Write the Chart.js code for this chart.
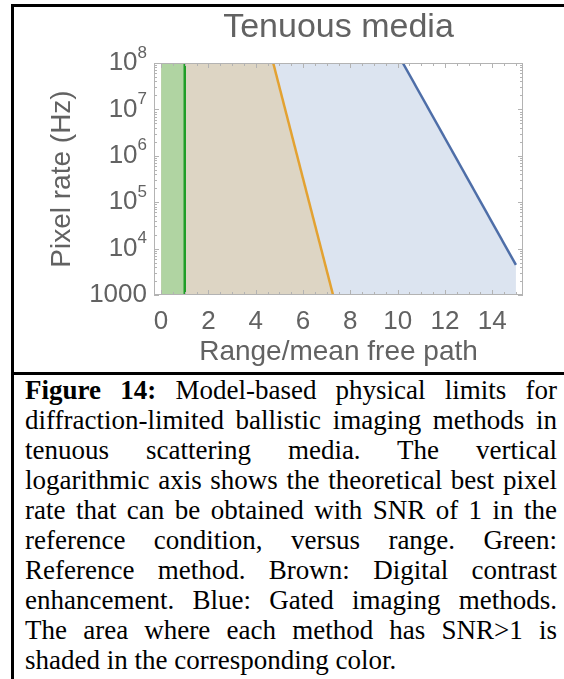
<!DOCTYPE html>
<html>
<head>
<meta charset="utf-8">
<script src="https://cdn.jsdelivr.net/npm/chart.js@4/dist/chart.umd.min.js"></script>
<style>
  html, body { margin: 0; padding: 0; background: #fff; }
  body { width: 564px; height: 679px; overflow: hidden; position: relative; }
  #chart { position: absolute; left: 0; top: 0; }
  .bl { position: absolute; background: #000; z-index: 2; }
  #caption { position: absolute; left: 25px; top: 375px; width: 532px;
    font-family: "Liberation Serif", "Times New Roman", serif; font-size: 27px;
    line-height: 30px; color: #000; }
  #caption .j { text-align: justify; text-align-last: justify; }
  #caption .l { text-align: left; }
</style>
</head>
<body>
<canvas id="chart" width="564" height="372"></canvas>
<div class="bl" style="left:11px;top:4px;width:600px;height:3px;"></div>
<div class="bl" style="left:11px;top:4px;width:3px;height:700px;"></div>
<div class="bl" style="left:11px;top:372px;width:600px;height:3px;"></div>
<div id="caption">
  <div class="j"><b>Figure 14:</b> Model-based physical limits for</div>
  <div class="j">diffraction-limited ballistic imaging methods in</div>
  <div class="j">tenuous scattering media. The vertical</div>
  <div class="j">logarithmic axis shows the theoretical best pixel</div>
  <div class="j">rate that can be obtained with SNR of 1 in the</div>
  <div class="j">reference condition, versus range. Green:</div>
  <div class="j">Reference method. Brown: Digital contrast</div>
  <div class="j">enhancement. Blue: Gated imaging methods.</div>
  <div class="j">The area where each method has SNR&gt;1 is</div>
  <div class="l">shaded in the corresponding color.</div>
</div>
<script>
// ---- data ----
const xLimits = [-0.3, 15.3];
const yLimits = [1e3, 1e8];
const xTickValues = [0, 2, 4, 6, 8, 10, 12, 14];
const yTickExponents = [3, 4, 5, 6, 7, 8];
const shadeStartX = 0;
// Green: reference method (vertical limit)
const referenceX = [1, 1];
const referenceY = [1e3, 1e8];
// Brown/orange: digital contrast enhancement
const contrastX = [4.74, 7.27];
const contrastY = [1e8, 1e3];
// Blue: gated imaging methods
const gatedX = [10.22, 15];
const gatedY = [1e8, 4470];

const zip = (xs, ys) => xs.map((x, i) => ({ x: x, y: ys[i] }));
const referenceLine = zip(referenceX, referenceY);
const contrastLine = zip(contrastX, contrastY);
const gatedLine = zip(gatedX, gatedY);
const topLeft = { x: shadeStartX, y: yLimits[1] };
const greenArea = [topLeft, { x: referenceX[1], y: yLimits[1] }];
const contrastArea = [topLeft].concat(contrastLine);
const gatedArea = [topLeft].concat(gatedLine);

const TEXT = '#626262';
const FRAME = '#b3b3b3';

const framePlugin = {
  id: 'frameTicks',
  afterDatasetsDraw(chart) {
    const { ctx, chartArea: a, scales } = chart;
    const xs = scales.x, ys = scales.y;
    ctx.save();
    ctx.strokeStyle = FRAME;
    ctx.lineWidth = 1;
    ctx.strokeRect(Math.round(a.left) + 0.5, Math.round(a.top) + 0.5,
      Math.round(a.right - a.left) - 1, Math.round(a.bottom - a.top) - 1);
    ctx.beginPath();
    for (let v = 0; v <= 15.01; v += 0.5) {
      const px = Math.round(xs.getPixelForValue(v)) + 0.5;
      const len = (Math.abs(v % 2) < 1e-6) ? 5 : 3;
      ctx.moveTo(px, a.bottom); ctx.lineTo(px, a.bottom - len);
      ctx.moveTo(px, a.top); ctx.lineTo(px, a.top + len);
    }
    for (let e = yTickExponents[0]; e <= yTickExponents[yTickExponents.length - 1]; e++) {
      for (let k = 1; k <= 9; k++) {
        const v = k * Math.pow(10, e);
        if (v > yLimits[1] * 1.0001) break;
        const py = Math.round(ys.getPixelForValue(v)) + 0.5;
        const len = k === 1 ? 5 : 3;
        ctx.moveTo(a.left, py); ctx.lineTo(a.left + len, py);
        ctx.moveTo(a.right, py); ctx.lineTo(a.right - len, py);
      }
    }
    ctx.stroke();
    ctx.restore();
  },
  afterDraw(chart) {
    const { ctx, chartArea: a, scales } = chart;
    const ys = scales.y;
    const rightX = a.left - 7;
    ctx.save();
    ctx.fillStyle = TEXT;
    ctx.textAlign = 'right';
    ctx.textBaseline = 'middle';
    const base = '26px "Liberation Sans", Arial, sans-serif';
    const sup = '17px "Liberation Sans", Arial, sans-serif';
    yTickExponents.forEach(e => {
      const py = ys.getPixelForValue(Math.pow(10, e));
      if (e === 3) {
        ctx.font = base;
        ctx.fillText(String(Math.pow(10, e)), rightX, py);
      } else {
        ctx.font = sup;
        const s = String(e);
        const w = ctx.measureText(s).width;
        ctx.fillText(s, rightX, py - 10);
        ctx.font = base;
        ctx.fillText('10', rightX - w, py);
      }
    });
    ctx.restore();
  }
};

new Chart(document.getElementById('chart'), {
  type: 'scatter',
  data: {
    datasets: [
      { label: 'Reference method', data: referenceLine, showLine: true, borderColor: '#1f9e28',
        borderWidth: 2.5, pointRadius: 0, fill: false, order: 1 },
      { label: 'Digital contrast enhancement', data: contrastLine, showLine: true, borderColor: '#e3a232',
        borderWidth: 2.5, pointRadius: 0, fill: false, order: 2 },
      { label: 'Gated imaging methods', data: gatedLine, showLine: true, borderColor: '#4e6ea8',
        borderWidth: 2.5, pointRadius: 0, fill: false, order: 3 },
      { label: 'Reference area', data: greenArea, showLine: true, borderWidth: 0, borderColor: 'rgba(0,0,0,0)',
        backgroundColor: '#b0d4a2', pointRadius: 0, fill: 'start', order: 4 },
      { label: 'Contrast area', data: contrastArea, showLine: true, borderWidth: 0, borderColor: 'rgba(0,0,0,0)',
        backgroundColor: '#ddd5c4', pointRadius: 0, fill: 'start', order: 5 },
      { label: 'Gated area', data: gatedArea, showLine: true, borderWidth: 0, borderColor: 'rgba(0,0,0,0)',
        backgroundColor: '#dce4f0', pointRadius: 0, fill: 'start', order: 6 }
    ]
  },
  options: {
    responsive: false,
    animation: false,
    devicePixelRatio: 1,
    layout: { padding: { left: 0, right: 41, top: 0, bottom: 0 } },
    plugins: {
      legend: { display: false },
      tooltip: { enabled: false },
      title: {
        display: true, text: 'Tenuous media', fullSize: false,
        color: TEXT, font: { family: '"Liberation Sans", Arial, sans-serif', size: 34, weight: 'normal' },
        padding: { top: 7, bottom: 15.2 }
      }
    },
    scales: {
      x: {
        type: 'linear', min: xLimits[0], max: xLimits[1],
        afterBuildTicks: s => { s.ticks = xTickValues.map(v => ({ value: v })); },
        afterFit: s => { s.height = 77; },
        grid: { display: false }, border: { display: false },
        ticks: { color: TEXT, padding: 3.4, maxRotation: 0, autoSkip: false,
          font: { family: '"Liberation Sans", Arial, sans-serif', size: 26 } },
        title: { display: true, text: 'Range/mean free path', color: TEXT,
          font: { family: '"Liberation Sans", Arial, sans-serif', size: 28 },
          padding: { top: 0, bottom: 2.7 } }
      },
      y: {
        type: 'logarithmic', min: yLimits[0], max: yLimits[1],
        afterFit: s => { s.width = 154; },
        grid: { display: false }, border: { display: false },
        ticks: { display: false },
        title: { display: true, text: 'Pixel rate (Hz)', color: TEXT,
          font: { family: '"Liberation Sans", Arial, sans-serif', size: 28 },
          padding: { top: 45.5, bottom: 0 } }
      }
    }
  },
  plugins: [framePlugin]
});
</script>
</body>
</html>
